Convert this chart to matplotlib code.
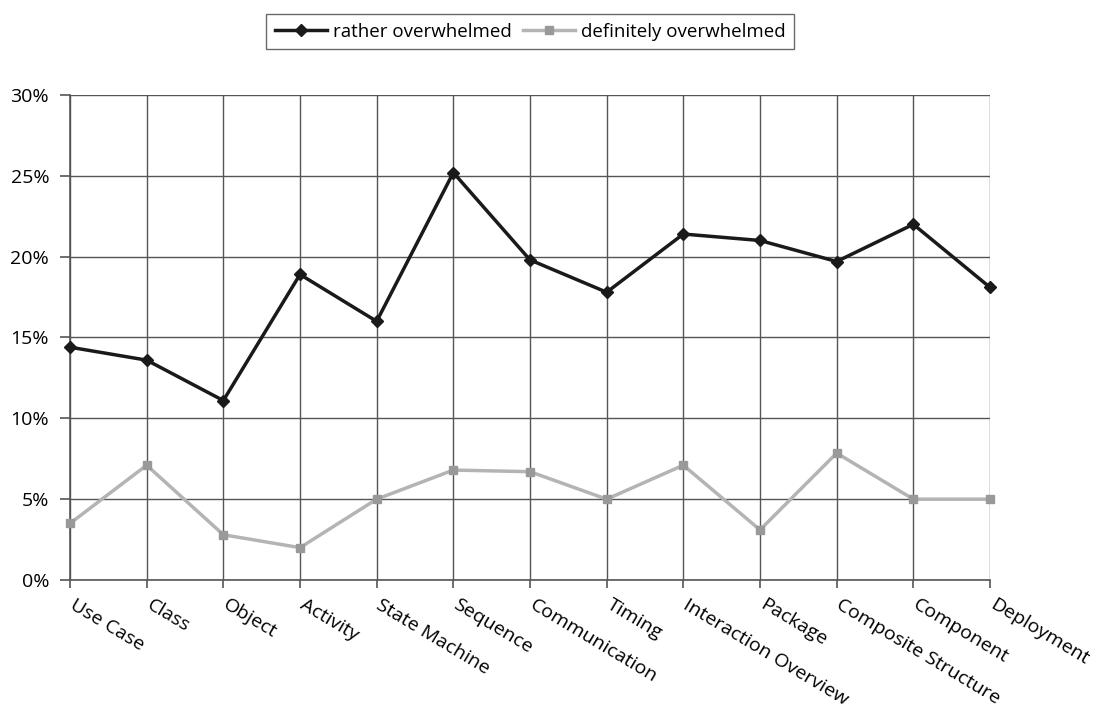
import matplotlib
matplotlib.use("Agg")
import matplotlib.pyplot as plt
import matplotlib.transforms as mtransforms
from matplotlib.ticker import FuncFormatter, MultipleLocator

categories = ["Use Case", "Class", "Object", "Activity", "State Machine", "Sequence",
              "Communication", "Timing", "Interaction Overview", "Package",
              "Composite Structure", "Component", "Deployment"]
rather = [14.4, 13.6, 11.1, 18.9, 16.0, 25.2, 19.8, 17.8, 21.4, 21.0, 19.7, 22.0, 18.1]
definitely = [3.5, 7.1, 2.8, 2.0, 5.0, 6.8, 6.7, 5.0, 7.1, 3.1, 7.85, 5.0, 5.0]

plt.rcParams['font.family'] = ['Open Sans', 'DejaVu Sans']

fig = plt.figure(figsize=(11.02, 7.09), dpi=100)
ax = fig.add_axes([70/1102, 1-580/709, 920/1102, 485/709])

x = list(range(len(categories)))
ax.plot(x, rather, color='#1a1a1a', lw=2.5, marker='D', ms=6, mfc='#1a1a1a', mec='#1a1a1a',
        label='rather overwhelmed', zorder=3, clip_on=False)
ax.plot(x, definitely, color='#b4b4b4', lw=2.5, marker='s', ms=6, mfc='#999999', mec='#999999',
        label='definitely overwhelmed', zorder=3, clip_on=False)

ax.set_xlim(0, len(categories)-1)
ax.set_ylim(0, 30)
ax.yaxis.set_major_locator(MultipleLocator(5))
ax.yaxis.set_major_formatter(FuncFormatter(lambda v, p: f"{int(round(v))}%"))
ax.set_xticks(x)
ax.set_xticklabels([])
ax.tick_params(axis='y', labelsize=14, length=7, color='#555555', width=1.2, pad=8)
ax.tick_params(axis='x', length=6, color='#555555', width=1.2)

offset = mtransforms.ScaledTranslation(6/100, -16/100, fig.dpi_scale_trans)
for xi, cat in zip(x, categories):
    ax.text(xi, 0, cat, transform=ax.get_xaxis_transform() + offset,
            rotation=-31, ha='left', va='top', rotation_mode='anchor', fontsize=14)

ax.grid(True, color='#555555', lw=1.0)
ygl = ax.get_ygridlines()
ygl[-1].set_visible(False)
for s in ['top', 'right']:
    ax.spines[s].set_visible(False)
for s in ['left', 'bottom']:
    ax.spines[s].set_color('#555555')
    ax.spines[s].set_linewidth(1.2)

leg = fig.legend(loc='upper center', bbox_to_anchor=(530/1102, 1-5/709), ncol=2,
                 fontsize=13.5, frameon=True, fancybox=False, edgecolor='#444444',
                 handlelength=2.8, handletextpad=0.3, columnspacing=0.6, borderpad=0.45)
leg.get_frame().set_linewidth(1.0)

fig.savefig('out.png', dpi=100, facecolor='white')
